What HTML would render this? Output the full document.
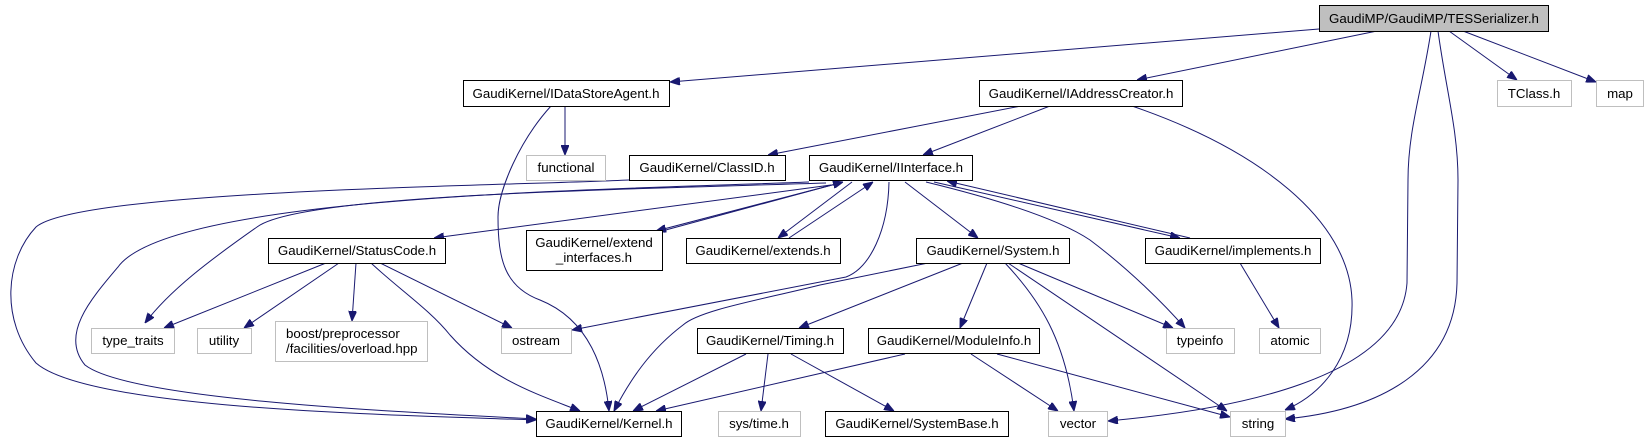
<!DOCTYPE html>
<html><head><meta charset="utf-8"><style>
html,body{margin:0;padding:0;background:#fff;}
svg{display:block;}
text{font-family:"Liberation Sans",sans-serif;font-size:13.3px;fill:#000;}
.b{fill:#fff;stroke:#000;stroke-width:1;}
.g{fill:#fff;stroke:#bfbfbf;stroke-width:1;}
.e{fill:none;stroke:#191970;stroke-width:1;marker-end:url(#a);}
</style></head><body>
<svg width="1649" height="443" viewBox="0 0 1649 443" xmlns="http://www.w3.org/2000/svg">
<defs><marker id="a" viewBox="0 0 10 8" refX="10" refY="4" markerWidth="10" markerHeight="8" markerUnits="userSpaceOnUse" orient="auto"><path d="M0,0L10,4L0,8z" fill="#191970" stroke="#191970"/></marker></defs>

<!-- edges -->
<path class="e" d="M1319,29 L670,82"/>
<path class="e" d="M1377,31 L1137,80"/>
<path class="e" d="M1449,31 L1517,80"/>
<path class="e" d="M1463,31 L1596,82"/>
<path class="e" d="M1431,31 C1422,90 1408,130 1408,180 L1407,283 C1400,380 1230,410 1108,421"/>
<path class="e" d="M1438,31 C1446,90 1458,130 1458,180 L1457,283 C1455,370 1380,410 1285,419"/>
<path class="e" d="M565,106 L565,155"/>
<path class="e" d="M551,106 C520,140 498,190 498,217 C498,260 505,287 540,300 C590,320 605,370 609,411"/>
<path class="e" d="M1021,106 L768,155"/>
<path class="e" d="M1050,106 L923,155"/>
<path class="e" d="M1132,106 C1260,150 1349,220 1352,300 C1354,360 1320,395 1285,410"/>
<path class="e" d="M629,180 C500,186 80,190 36,227 C5,260 0,320 36,363 C90,410 400,415 536,420"/>
<path class="e" d="M809,182 C600,190 170,195 118,267 C90,300 60,335 85,365 C130,400 400,412 536,419"/>
<path class="e" d="M826,183 C600,190 300,195 257,227 C210,260 170,290 145,323"/>
<path class="e" d="M831,185 L434,238"/>
<path class="e" d="M836,184 L656,231"/>
<path class="e" d="M662,231 L843,182"/>
<path class="e" d="M852,182 L778,238"/>
<path class="e" d="M789,238 L873,182"/>
<path class="e" d="M889,182 C888,230 870,268 846,277 L572,330"/>
<path class="e" d="M905,182 L978,238"/>
<path class="e" d="M934,182 L1180,238"/>
<path class="e" d="M1190,238 L947,181"/>
<path class="e" d="M926,182 C1000,200 1060,220 1090,240 C1130,270 1165,305 1185,328"/>
<path class="e" d="M326,263 L164,328"/>
<path class="e" d="M339,263 L244,328"/>
<path class="e" d="M356,263 L352,321"/>
<path class="e" d="M380,263 L512,328"/>
<path class="e" d="M371,263 C400,290 430,310 450,335 C490,380 540,395 580,411"/>
<path class="e" d="M928,263 L820,285 C760,300 700,310 683,325 C650,350 630,380 614,411"/>
<path class="e" d="M963,263 L799,328"/>
<path class="e" d="M987,263 L960,328"/>
<path class="e" d="M1005,263 C1040,300 1065,340 1074,411"/>
<path class="e" d="M1008,263 L1227,411"/>
<path class="e" d="M1018,263 L1173,328"/>
<path class="e" d="M1240,263 L1279,328"/>
<path class="e" d="M746,354 L633,411"/>
<path class="e" d="M768,354 L761,411"/>
<path class="e" d="M791,354 L894,411"/>
<path class="e" d="M905,354 L656,411"/>
<path class="e" d="M971,354 L1058,411"/>
<path class="e" d="M997,354 L1230,417"/>

<!-- nodes -->
<rect x="1319.5" y="5.5" width="229" height="26" fill="#bfbfbf" stroke="#000"/>
<text x="1434" y="23" text-anchor="middle">GaudiMP/GaudiMP/TESSerializer.h</text>

<rect class="b" x="463.5" y="80.5" width="206" height="26"/><text x="566" y="98" text-anchor="middle">GaudiKernel/IDataStoreAgent.h</text>
<rect class="b" x="979.5" y="80.5" width="203" height="26"/><text x="1081" y="98" text-anchor="middle">GaudiKernel/IAddressCreator.h</text>
<rect class="g" x="1497.5" y="80.5" width="74" height="26"/><text x="1534" y="98" text-anchor="middle">TClass.h</text>
<rect class="g" x="1596.5" y="80.5" width="47" height="26"/><text x="1620" y="98" text-anchor="middle">map</text>

<rect class="g" x="526.5" y="155.5" width="79" height="25"/><text x="566" y="172" text-anchor="middle">functional</text>
<rect class="b" x="629.5" y="155.5" width="156" height="25"/><text x="707" y="172" text-anchor="middle">GaudiKernel/ClassID.h</text>
<rect class="b" x="809.5" y="155.5" width="163" height="25"/><text x="891" y="172" text-anchor="middle">GaudiKernel/IInterface.h</text>

<rect class="b" x="268.5" y="238.5" width="177" height="25"/><text x="357" y="255" text-anchor="middle">GaudiKernel/StatusCode.h</text>
<rect class="b" x="526.5" y="230.5" width="136" height="40"/><text x="594" y="247" text-anchor="middle">GaudiKernel/extend</text><text x="594" y="262" text-anchor="middle">_interfaces.h</text>
<rect class="b" x="686.5" y="238.5" width="154" height="25"/><text x="763" y="255" text-anchor="middle">GaudiKernel/extends.h</text>
<rect class="b" x="916.5" y="238.5" width="153" height="25"/><text x="993" y="255" text-anchor="middle">GaudiKernel/System.h</text>
<rect class="b" x="1145.5" y="238.5" width="175" height="25"/><text x="1233" y="255" text-anchor="middle">GaudiKernel/implements.h</text>

<rect class="g" x="91.5" y="328.5" width="83" height="25"/><text x="133" y="345" text-anchor="middle">type_traits</text>
<rect class="g" x="197.5" y="328.5" width="54" height="25"/><text x="224" y="345" text-anchor="middle">utility</text>
<rect class="g" x="275.5" y="321.5" width="152" height="40"/><text x="286" y="338">boost/preprocessor</text><text x="286" y="353">/facilities/overload.hpp</text>
<rect class="g" x="501.5" y="328.5" width="70" height="25"/><text x="536" y="345" text-anchor="middle">ostream</text>
<rect class="b" x="697.5" y="328.5" width="146" height="25"/><text x="770" y="345" text-anchor="middle">GaudiKernel/Timing.h</text>
<rect class="b" x="868.5" y="328.5" width="171" height="25"/><text x="954" y="345" text-anchor="middle">GaudiKernel/ModuleInfo.h</text>
<rect class="g" x="1166.5" y="328.5" width="68" height="25"/><text x="1200" y="345" text-anchor="middle">typeinfo</text>
<rect class="g" x="1259.5" y="328.5" width="61" height="25"/><text x="1290" y="345" text-anchor="middle">atomic</text>

<rect class="b" x="536.5" y="411.5" width="145" height="25"/><text x="609" y="428" text-anchor="middle">GaudiKernel/Kernel.h</text>
<rect class="g" x="718.5" y="411.5" width="82" height="25"/><text x="759" y="428" text-anchor="middle">sys/time.h</text>
<rect class="b" x="825.5" y="411.5" width="183" height="25"/><text x="917" y="428" text-anchor="middle">GaudiKernel/SystemBase.h</text>
<rect class="g" x="1048.5" y="411.5" width="59" height="25"/><text x="1078" y="428" text-anchor="middle">vector</text>
<rect class="g" x="1230.5" y="411.5" width="55" height="25"/><text x="1258" y="428" text-anchor="middle">string</text>
</svg>
</body></html>
